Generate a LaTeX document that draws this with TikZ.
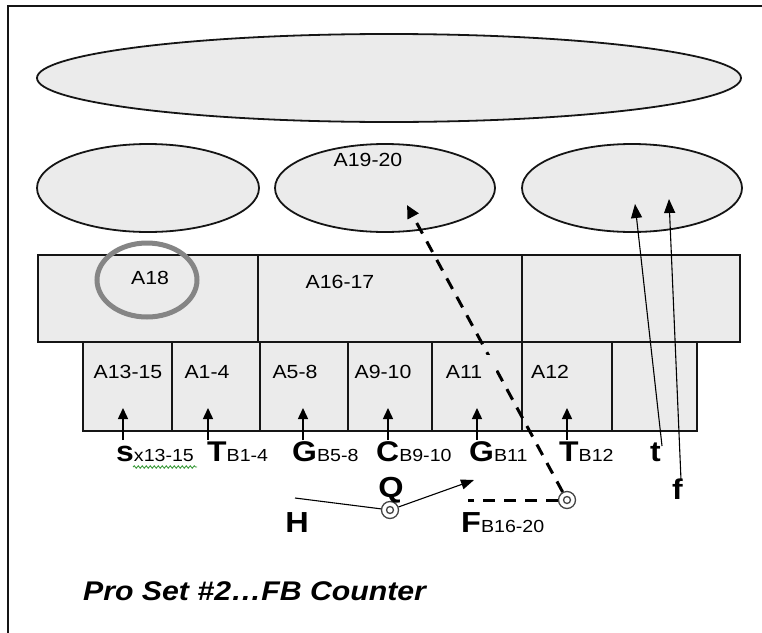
\documentclass[tikz,border=0pt]{standalone}
\usepackage{fontspec}
\setmainfont{Liberation Sans}[FakeStretch=1.12]
\usetikzlibrary{arrows.meta,decorations.pathmorphing,shapes.geometric}

\definecolor{boxgray}{HTML}{EBEBEB}
\definecolor{ringgray}{HTML}{858585}
\definecolor{edge}{HTML}{151515}
\definecolor{squiggle}{HTML}{3C9A3C}

% letter styles for the player marks
\newcommand{\plbig}[1]{{\fontsize{28.5}{28.5}\selectfont\bfseries #1}}
\newcommand{\plmid}[1]{{\fontsize{29}{29}\selectfont\bfseries #1}}
\newcommand{\plsub}[1]{{\fontsize{17.5}{17.5}\selectfont #1}}

\tikzset{
  zone/.style={ellipse, draw=edge, line width=1.8pt, fill=boxgray, inner sep=0pt},
  cell/.style={rectangle, draw=edge, line width=2pt, fill=boxgray, inner sep=0pt},
  lbl/.style={font=\fontsize{19}{19}\selectfont, inner sep=0pt},
  plmark/.style={anchor=base west, inner sep=0pt},
  uparrow/.style={line width=1.5pt, -{Triangle[length=11pt,width=10pt]}},
  longarrow/.style={line width=1.1pt, -{Triangle[length=14pt,width=11pt]}},
  thinline/.style={line width=1.1pt},
  blitz/.style={line width=3pt, dash pattern=on 12pt off 9pt},
  ringout/.style={circle, draw=edge!80, line width=1.3pt, minimum size=17pt, inner sep=0pt, fill=white},
  ringin/.style={circle, draw=edge!80, line width=1.3pt, minimum size=7pt, inner sep=0pt}
}

\begin{document}
\begin{tikzpicture}[x=1pt, y=-1pt]
\useasboundingbox (0,0) rectangle (762,632);

% page frame (only the top and left edges fall inside)
\draw[line width=2pt, edge] (8,640) -- (8,6) -- (770,6);

% deep zone and the three intermediate zones
\node[zone, minimum width=704pt, minimum height=88pt] (deep) at (389,78) {};
\node[zone, minimum width=222pt, minimum height=88pt] (zl) at (148,188) {};
\node[zone, minimum width=220pt, minimum height=88pt] (zm) at (385,188) {};
\node[zone, minimum width=220pt, minimum height=88pt] (zr) at (632,188) {};
\node[lbl] (a1920) at (368,160) {A19-20};

% second level: three wide boxes
\node[cell, minimum width=220pt, minimum height=87pt] (w1) at (148,298.5) {};
\node[cell, minimum width=264pt, minimum height=87pt] (w2) at (390,298.5) {};
\node[cell, minimum width=218pt, minimum height=87pt] (w3) at (631,298.5) {};
\node[lbl] (a18) at (150,278) {A18};
\node[lbl] (a1617) at (340,282) {A16-17};
\draw[ringgray, line width=5pt] (147,280) ellipse [x radius=50pt, y radius=37pt];

% first level: seven boxes
\node[cell, minimum width=89pt, minimum height=89pt] (b1) at (127.5,386.5) {};
\node[cell, minimum width=88pt, minimum height=89pt] (b2) at (216,386.5) {};
\node[cell, minimum width=88pt, minimum height=89pt] (b3) at (304,386.5) {};
\node[cell, minimum width=84pt, minimum height=89pt] (b4) at (390,386.5) {};
\node[cell, minimum width=90pt, minimum height=89pt] (b5) at (477,386.5) {};
\node[cell, minimum width=90pt, minimum height=89pt] (b6) at (567,386.5) {};
\node[cell, minimum width=85pt, minimum height=89pt] (b7) at (654.5,386.5) {};

% blitz path from the free safety into the middle zone
\node[ringout] (fsr) at (567,500) {};
\node[ringin] (fsi) at (fsr) {};
\coordinate (blitzend) at (407,205);
\coordinate (fsline) at (468,500);
\draw[blitz, -{Triangle[length=13pt,width=12pt]}] (fsr) -- (blitzend);
\draw[blitz] (fsr) -- (fsline);

% labels of the first-level boxes (the A11 text box masks the blitz line)
\fill[boxgray] (446,355) rectangle (496,378);
\node[lbl] (a1315) at (128,372) {A13-15};
\node[lbl] (a14) at (207,372) {A1-4};
\node[lbl] (a58) at (295,372) {A5-8};
\node[lbl] (a910) at (383,372) {A9-10};
\node[lbl] (a11) at (464,372) {A11};
\node[lbl] (a12) at (550,372) {A12};

% offensive players
\node[plmark] (ms) at (116,461) {\plbig{s}\plsub{x13-15}};
\node[plmark] (mt1) at (207,461) {\plbig{T}\plsub{B1-4}};
\node[plmark] (mg1) at (292,461) {\plbig{G}\plsub{B5-8}};
\node[plmark] (mc) at (376,461) {\plbig{C}\plsub{B9-10}};
\node[plmark] (mg2) at (469,461) {\plbig{G}\plsub{B11}};
\node[plmark] (mt2) at (559,461) {\plbig{T}\plsub{B12}};
\node[plmark] (mte) at (650,461) {\plbig{t}};
\node[plmark] (mf) at (672,499) {\plbig{f}};
\draw[squiggle, line width=0.9pt, decorate, decoration={snake, segment length=4pt, amplitude=1.2pt}] (133,467) -- (197,467);

% run-support arrows into the first-level gaps
\coordinate (s0) at (123,440); \coordinate (s1) at (123,408);
\coordinate (t0) at (208,440); \coordinate (t1) at (208,408);
\coordinate (g0) at (303,440); \coordinate (g1) at (303,408);
\coordinate (c0) at (388,440); \coordinate (c1) at (388,408);
\coordinate (h0) at (477,440); \coordinate (h1) at (477,408);
\coordinate (k0) at (567,440); \coordinate (k1) at (567,408);
\foreach \p in {s,t,g,c,h,k} \draw[uparrow] (\p0) -- (\p1);

% tight end and flanker releases into the right zone
\coordinate (te0) at (662,446); \coordinate (te1) at (635,204);
\coordinate (fl0) at (681,480); \coordinate (fl1) at (669,199);
\draw[longarrow] (te0) -- (te1);
\draw[longarrow] (fl0) -- (fl1);

% quarterback and halfback
\node[ringout] (qr) at (390,510) {};
\node[ringin] (qi) at (qr) {};
\coordinate (hstart) at (295,498);
\coordinate (qend) at (474,480);
\draw[thinline] (hstart) -- (qr);
\draw[thinline, -{Triangle[length=13pt,width=10pt]}] (qr) -- (qend);
\node[anchor=base, inner sep=0pt] (mq) at (391,497) {\plmid{Q}};
\node[anchor=base, inner sep=0pt] (mh) at (297,532) {\plmid{H}};
\node[plmark] (mfb) at (461,532) {\plmid{F}\plsub{B16-20}};

% title
\node[anchor=base west, inner sep=0pt, font=\fontsize{27}{27}\selectfont\bfseries\itshape] (title) at (83,600) {Pro Set \#2…FB Counter};
\end{tikzpicture}
\end{document}
